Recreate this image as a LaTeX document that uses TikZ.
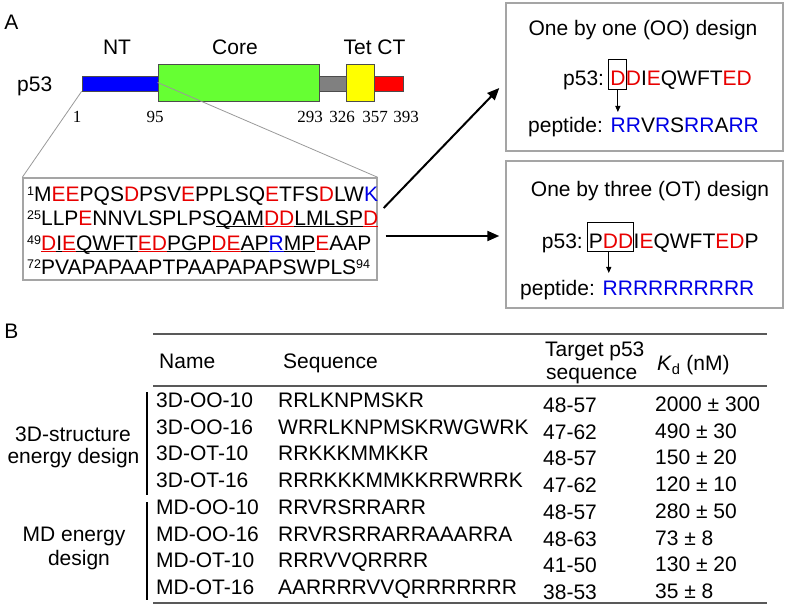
\documentclass[tikz,border=0pt]{standalone}
\usepackage{fontspec}
\setmainfont{Liberation Sans}
\newfontfamily\tms{Liberation Serif}
\usetikzlibrary{calc,arrows.meta}
\definecolor{tred}{RGB}{232,0,0}
\definecolor{tblue}{RGB}{0,0,230}
\definecolor{barblue}{RGB}{0,0,255}
\definecolor{bargreen}{RGB}{102,255,51}
\definecolor{bargray}{RGB}{128,128,128}
\definecolor{baryellow}{RGB}{255,255,0}
\definecolor{barred}{RGB}{255,0,0}
\definecolor{frame}{RGB}{165,165,165}
\newcommand\rd[1]{\textcolor{tred}{#1}}
\newcommand\bl[1]{\textcolor{tblue}{#1}}
\newcommand\uln[1]{\setbox0=\hbox{#1}\rlap{\rule[-2pt]{\wd0}{1pt}}\box0}
\newcommand\sups[1]{\raisebox{6.4pt}{\fontsize{12.5}{12.5}\selectfont #1}}
\begin{document}
\begin{tikzpicture}[x=1pt,y=-1pt,font=\fontsize{21}{25}\selectfont,
  txt/.style={inner sep=0pt,anchor=base west},
  ctxt/.style={inner sep=0pt,anchor=base},
  bar/.style={draw=black!70,line width=0.8pt,inner sep=0pt,rectangle},
  panel/.style={draw=frame,line width=1.4pt,inner sep=0pt,rectangle},
  num/.style={inner sep=0pt,anchor=base,font=\tms\fontsize{17}{20}\selectfont},
  bigarrow/.style={line width=2pt,-{Triangle[length=12pt,width=10pt]}},
  smallarrow/.style={line width=1pt,-{Triangle[length=6pt,width=5pt]}},
  zoomline/.style={draw=black!40,line width=0.8pt},
  tabrule/.style={draw=black!65,line width=1.2pt},
  grpbar/.style={draw=black,line width=1.6pt}]
\useasboundingbox (0,0) rectangle (786,609);

% ---------------- Panel A ----------------
\node[ctxt] (labA) at (11.5,30) {A};
\node[ctxt] (labNT) at (117,55) {NT};
\node[ctxt] (labCore) at (235,55) {Core};
\node[ctxt] (labTet) at (374.5,55) {Tet CT};
\node[txt] (labp53) at (17,91.5) {p53};

\node[bar,fill=barblue,minimum width=76pt,minimum height=15pt] (nt) at (120,83.5) {};
\node[bar,fill=bargray,minimum width=28pt,minimum height=15pt] (lnk) at (333,83.5) {};
\node[bar,fill=barred,minimum width=29pt,minimum height=15pt] (ct) at (388.5,83.5) {};
\node[bar,fill=bargreen,minimum width=161pt,minimum height=37pt] (core) at (238.5,82.5) {};
\node[bar,fill=baryellow,minimum width=28pt,minimum height=37pt] (tet) at (360,82.5) {};

\node[num] (n1) at (77,122.7) {1};
\node[num] (n95) at (155,122.7) {95};
\node[num] (n293) at (310,122.7) {293};
\node[num] (n326) at (342,122.7) {326};
\node[num] (n357) at (375,122.7) {357};
\node[num] (n393) at (406,122.7) {393};

\node[panel,minimum width=354pt,minimum height=102pt] (seq) at (200,229) {};
\draw[zoomline] (nt.south west) -- (seq.north west);
\draw[zoomline] (core.west) -- (seq.north east);

\node[txt] (s1) at (27,201.5) {\sups{1}M\rd{EE}PQS\rd{D}PSV\rd{E}PPLSQ\rd{E}TFS\rd{D}LW\bl{K}};
\node[txt] (s2) at (27,225.5) {\sups{25}LLP\rd{E}NNVLSPLPS\uln{QAM}\rd{\uln{DD}}\uln{LMLSP}\rd{\uln{D}}};
\node[txt] (s3) at (27,250.5) {\sups{49}\rd{\uln{D}}\uln{I}\rd{\uln{E}}\uln{QWFT}\rd{\uln{ED}}\uln{PGP}\rd{\uln{DE}}\uln{AP}\bl{\uln{R}}\uln{MP}\rd{E}AAP};
\node[txt] (s4) at (27,274.5) {\sups{72}PVAPAPAAPTPAAPAPAPSWPLS\sups{94}};

% right boxes
\node[panel,minimum width=277pt,minimum height=148pt] (oobox) at (644.5,77) {};
\node[panel,minimum width=277pt,minimum height=147pt] (otbox) at (644.5,234.5) {};

\coordinate (a1s) at ($(seq.east)+(6,-21)$);
\coordinate (a1e) at ($(oobox.west)+(-6,11)$);
\coordinate (a2s) at ($(seq.east)+(8,7)$);
\coordinate (a2e) at ($(otbox.west)+(-6,1.5)$);
\draw[bigarrow] (a1s) -- (a1e);
\draw[bigarrow] (a2s) -- (a2e);

% OO design
\node[ctxt] (ootitle) at (643,36) {One by one (OO) design};
\node[txt] (oop53) at (563,86) {p53:\kern5.8pt};
\node[txt] (ooD) at (oop53.base east) {\rd{D}};
\node[txt] (oorest) at (ooD.base east) {\rd{D}I\rd{E}QWFT\rd{ED}};
\draw[line width=1pt] ($(ooD.base west)+(-2,-26)$) rectangle ($(ooD.base east)+(1,4)$);
\coordinate (ooas) at ($(ooD.base)+(0,4)$);
\coordinate (ooae) at ($(ooD.base)+(0,26)$);
\draw[smallarrow] (ooas) -- (ooae);
\node[txt] (oopep) at (528,133) {peptide: \bl{RR}V\bl{R}S\bl{RR}A\bl{RR}};

% OT design
\node[ctxt] (ottitle) at (650,196.5) {One by three (OT) design};
\node[txt] (otp53) at (541.7,249) {p53:\kern5.8pt};
\node[txt] (otPDD) at (otp53.base east) {P\rd{DD}};
\node[txt] (otrest) at (otPDD.base east) {I\rd{E}QWFT\rd{ED}P};
\draw[line width=1pt] ($(otPDD.base west)+(-1,-26)$) rectangle ($(otPDD.base east)+(0,3)$);
\coordinate (otas) at ($(otPDD.base west)+(20,3)$);
\coordinate (otae) at ($(otPDD.base west)+(20,24)$);
\draw[smallarrow] (otas) -- (otae);
\node[txt] (otpep) at (520,295) {peptide: \bl{RRRRRRRRRR}};

% ---------------- Panel B ----------------
\node[ctxt] (labB) at (11.5,338.5) {B};
\coordinate (r1a) at (153,334); \coordinate (r1b) at (767,334);
\coordinate (r2a) at (153,386); \coordinate (r2b) at (767,386);
\coordinate (r3a) at (153,603); \coordinate (r3b) at (767,603);
\draw[tabrule] (r1a) -- (r1b);
\draw[tabrule] (r2a) -- (r2b);
\draw[tabrule] (r3a) -- (r3b);

\node[txt] (hName) at (159,368.5) {Name};
\node[txt] (hSeq) at (283,368.5) {Sequence};
\node[txt] (hTg1) at (545,356) {Target p53};
\node[txt] (hTg2) at (546,379) {sequence};
\node[txt] (hKd) at (657,370.5) {\textit{K}\textsubscript{d} (nM)};

\foreach \nm/\sq/\tg/\kd [count=\i from 0] in {
  3D-OO-10/RRLKNPMSKR/48-57/2000 ± 300,
  3D-OO-16/WRRLKNPMSKRWGWRK/47-62/490 ± 30,
  3D-OT-10/RRKKKMMKKR/48-57/150 ± 20,
  3D-OT-16/RRRKKKMMKKRRWRRK/47-62/120 ± 10,
  MD-OO-10/RRVRSRRARR/48-57/280 ± 50,
  MD-OO-16/RRVRSRRARRAAARRA/48-63/73 ± 8,
  MD-OT-10/RRRVVQRRRR/41-50/130 ± 20,
  MD-OT-16/AARRRRVVQRRRRRRR/38-53/35 ± 8}{
  \node[txt] (name\i) at (156,407.5+26.7*\i) {\nm};
  \node[txt] (seq\i) at (278,407.5+26.7*\i) {\sq};
  \node[txt] (tg\i) at (543,412.5+26.7*\i) {\tg};
  \node[txt] (kd\i) at (655,411.5+26.7*\i) {\kd};
}

\coordinate (g1a) at (147,392); \coordinate (g1b) at (147,495);
\coordinate (g2a) at (147,502); \coordinate (g2b) at (147,600);
\draw[grpbar] (g1a) -- (g1b);
\draw[grpbar] (g2a) -- (g2b);
\node[ctxt] (grp1a) at (73,441.5) {3D-structure};
\node[ctxt] (grp1b) at (73.5,463.5) {energy design};
\node[ctxt] (grp2a) at (74,541.7) {MD energy};
\node[ctxt] (grp2b) at (79,565) {design};
\end{tikzpicture}
\end{document}
